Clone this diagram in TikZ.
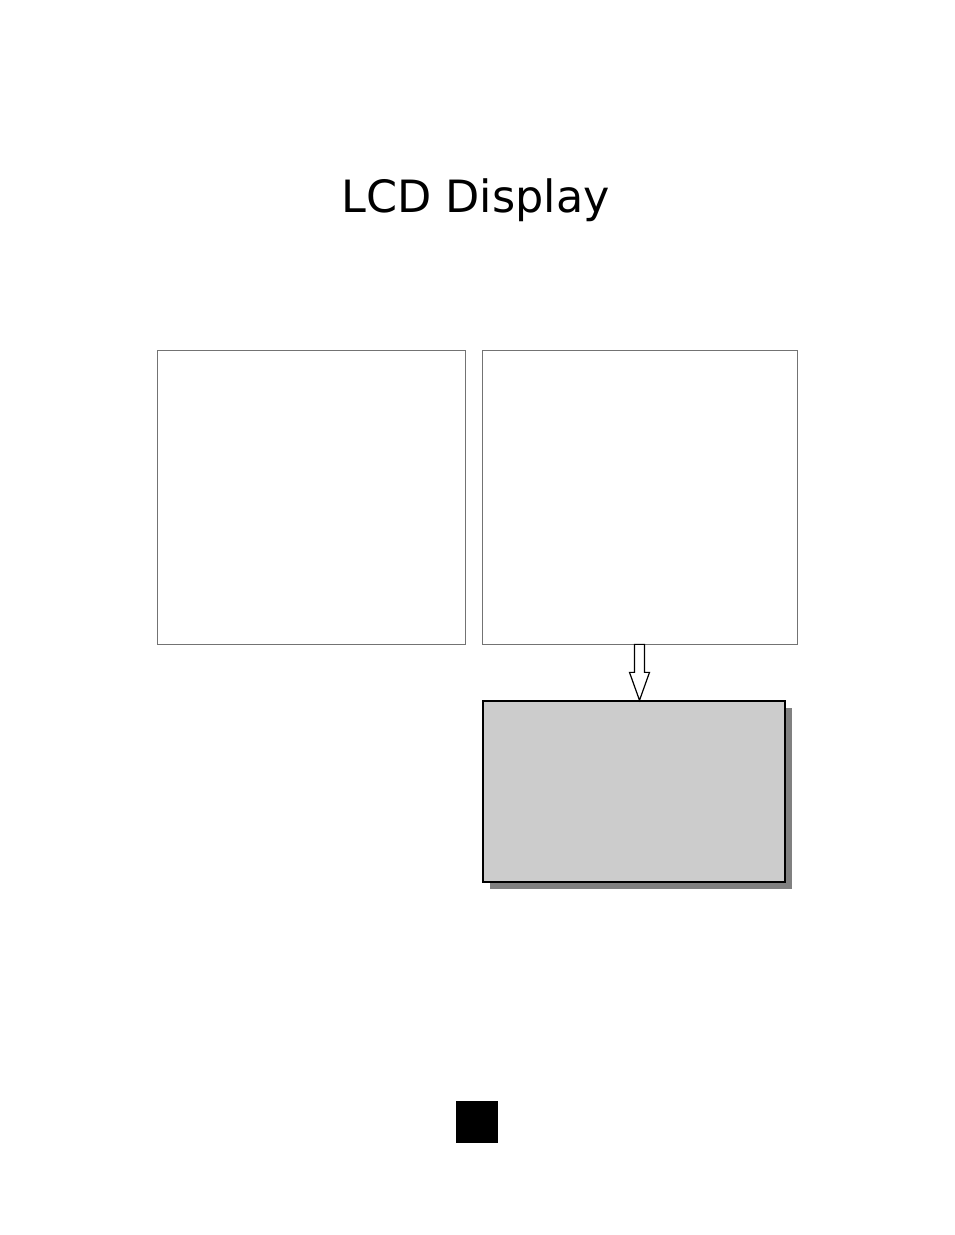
\documentclass[tikz,border=0pt]{standalone}
\usepackage{fontspec}
\setmainfont{DejaVu Sans}
\usepackage{xcolor}
\definecolor{Col1}{RGB}{128,128,128}
\definecolor{Col2}{RGB}{204,204,204}
\definecolor{Col5}{RGB}{0,0,0}
\usepackage{tikz}
\tikzstyle{Panel}=[draw=Col1!90!black,line width=0.7pt,inner sep=0pt]
\tikzstyle{Screen}=[draw=Col5,fill=Col2,line width=1.4pt,inner sep=0pt]
\tikzstyle{Shadow}=[fill=Col1,inner sep=0pt]
\tikzstyle{Hollow}=[draw=Col5,fill=white,line width=1.2pt,line join=miter]
\tikzstyle{NodeTitle}=[font=\fontsize{44.5}{54}\selectfont,inner sep=0pt,anchor=base]
\begin{document}
\begin{tikzpicture}[x=1pt,y=-1pt]
            \useasboundingbox(0,0)rectangle(954,1235);
            \node[NodeTitle](title)at(475.5,212){LCD Display};
            \node[Panel,minimum width=308pt,minimum height=294pt](left)
                at(311,497){};
            \node[Panel,minimum width=315pt,minimum height=294pt](right)
                at(639.5,497){};
            \node[Shadow,minimum width=302pt,minimum height=181pt](shadow)
                at(640.5,798){};
            \node[Screen,minimum width=302pt,minimum height=181pt](screen)
                at(634,791.5){};
            %
            \coordinate(tip)at(right.south|-screen.north);
            \draw[Hollow]([xshift=-5pt]right.south)--([xshift=5pt]right.south)
                --([xshift=5pt,yshift=-28pt]right.south)
                --([xshift=10pt,yshift=-28pt]right.south)--(tip)
                --([xshift=-10pt,yshift=-28pt]right.south)
                --([xshift=-5pt,yshift=-28pt]right.south)--cycle;
            %
            \node[fill=Col5,minimum size=42pt,inner sep=0pt](page)
                at(477,1122){};
        \end{tikzpicture}
\end{document}
